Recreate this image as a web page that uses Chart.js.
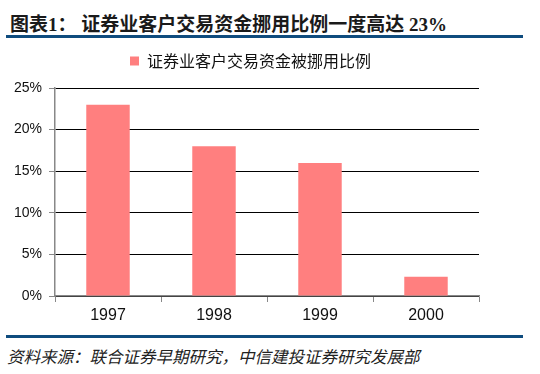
<!DOCTYPE html>
<html>
<head>
<meta charset="utf-8">
<script src="https://cdn.jsdelivr.net/npm/chart.js@4"></script>
<style>
  body { margin: 0; background: #fff; width: 540px; height: 374px; position: relative; overflow: hidden; }
  #titulo {
    position: absolute; left: 10px; top: 9px;
    font: bold 19px "Liberation Serif", "Noto Sans CJK SC", serif;
    color: #1a1a1a; white-space: nowrap;
  }
  #titulo .cjk { font-family: "Noto Sans CJK SC", sans-serif; }
  .linha { position: absolute; left: 6px; width: 517px; height: 3px; background: #0f4c7e; }
  #fonte {
    position: absolute; left: 7px; top: 344px;
    font: italic 16.5px "Noto Sans CJK SC", sans-serif; color: #222; white-space: nowrap;
  }
  #caixa { position: absolute; left: 0; top: 32px; width: 540px; height: 302px; }
</style>
</head>
<body>
<div id="titulo"><span class="cjk">图表</span>1<span class="cjk">：</span> <span class="cjk">证券业客户交易资金挪用比例一度高达</span> 23%</div>
<div class="linha" style="top:35px"></div>
<div id="caixa"><canvas id="grafico"></canvas></div>
<div class="linha" style="top:335px"></div>
<div id="fonte">资料来源：联合证券早期研究，中信建投证券研究发展部</div>

<script>
const anos = ["1997", "1998", "1999", "2000"];
const percentuais = [23, 18, 16, 2.3];
const rotuloSerie = "证券业客户交易资金被挪用比例";
const ticksY = [0, 5, 10, 15, 20, 25];

const corBarra = "#ff7f7f";
const corEixo = "#888888";

// posiciona a legenda como no original (um pouco à direita e mais alta)
const ajusteLegenda = {
  id: "ajusteLegenda",
  afterLayout(chart) {
    const leg = chart.legend;
    leg.left += 6;
    leg.right += 6;
    leg.top -= 9;
    leg.bottom -= 9;
  }
};

const ctx = document.getElementById("grafico").getContext("2d");
new Chart(ctx, {
  type: "bar",
  data: {
    labels: anos,
    datasets: [{
      label: rotuloSerie,
      data: percentuais,
      backgroundColor: corBarra,
      borderWidth: 0,
      barPercentage: 0.41,
      categoryPercentage: 1
    }]
  },
  plugins: [ajusteLegenda],
  options: {
    responsive: true,
    maintainAspectRatio: false,
    animation: false,
    layout: { padding: { left: 10, right: 61, top: 2, bottom: 0 } },
    plugins: {
      tooltip: { enabled: false },
      legend: {
        position: "top",
        labels: {
          boxWidth: 9,
          boxHeight: 9,
          color: "#111",
          padding: 28,
          font: { family: "'Noto Sans CJK SC', sans-serif", size: 16 }
        }
      }
    },
    scales: {
      x: {
        afterFit: scale => { scale.height = 38; },
        grid: {
          offset: true,
          drawOnChartArea: false,
          color: corEixo,
          tickLength: 6
        },
        border: { color: corEixo, width: 1.5 },
        ticks: {
          color: "#111",
          padding: 4,
          font: { family: "'Liberation Sans', Arial, sans-serif", size: 16 }
        }
      },
      y: {
        min: 0,
        max: 25,
        afterFit: scale => { scale.width = 45; },
        afterBuildTicks: scale => { scale.ticks = ticksY.map(v => ({ value: v })); },
        grid: {
          color: "#000",
          lineWidth: 1,
          tickColor: corEixo,
          tickLength: 6
        },
        border: { color: corEixo, width: 1.5 },
        ticks: {
          color: "#111",
          padding: 7,
          callback: v => v + "%",
          font: { family: "'Liberation Sans', Arial, sans-serif", size: 14 }
        }
      }
    }
  }
});
</script>
</body>
</html>
